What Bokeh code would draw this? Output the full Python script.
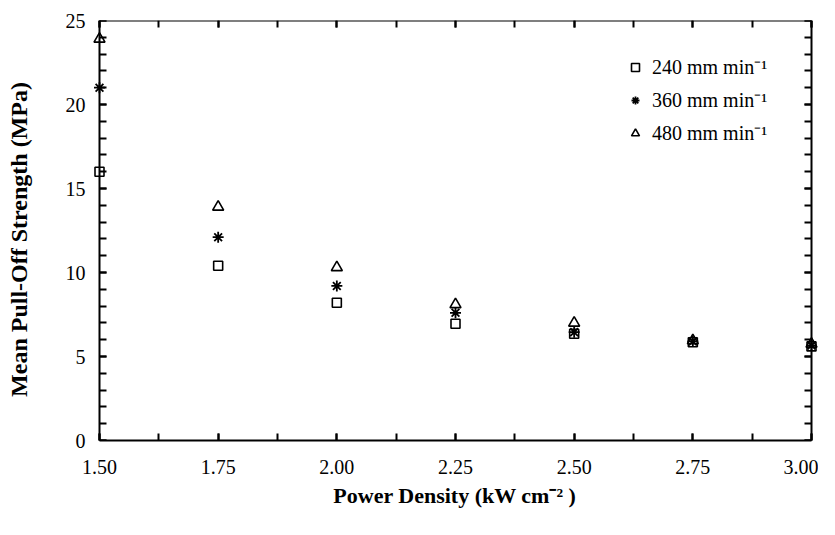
from bokeh.plotting import figure
from bokeh.models import (Range1d, LinearAxis, Legend, LegendItem,
                          SingleIntervalTicker, NumeralTickFormatter)
from bokeh.embed import file_html
from bokeh.resources import INLINE

# ---- data ----
power_density = [1.50, 1.75, 2.00, 2.25, 2.50, 2.75, 3.00]
s240 = [16.0, 10.4, 8.2, 6.95, 6.35, 5.85, 5.6]
s360 = [21.0, 12.1, 9.2, 7.6, 6.45, 5.9, 5.65]
s480 = [23.9, 13.9, 10.3, 8.1, 7.0, 5.95, 5.75]
legend_labels = ["240 mm min\u207b\u00b9", "360 mm min\u207b\u00b9", "480 mm min\u207b\u00b9"]
x_title = "Power Density (kW cm\u207b\u00b2 )"
y_title = "Mean  Pull-Off  Strength  (MPa)"

FONT = "Liberation Serif"

X0, X1 = 1.5, 3.0
Y0, Y1 = 0, 25
PX_PER_X = 712 / 1.5
PAD_L, PAD_R = 8, 7

p = figure(frame_width=727, frame_height=420, output_backend="svg", toolbar_location=None,
           x_range=Range1d(X0 - PAD_L / PX_PER_X, X1 + PAD_R / PX_PER_X),
           y_range=Range1d(Y0, Y1),
           x_axis_location=None, y_axis_location=None)
p.min_border_left = 91
p.min_border_right = 0
p.min_border_top = 20
p.min_border_bottom = 79
p.outline_line_color = None
p.xgrid.visible = False
p.ygrid.visible = False
p.background_fill_color = "white"
p.border_fill_color = "white"


def make_axis(kind, show_line=True, labels=False, standoff=0,
              title=None, title_size="22px", title_standoff=8):
    ax = LinearAxis()
    if kind == "x":
        ax.ticker = SingleIntervalTicker(interval=0.25, num_minor_ticks=2)
        ax.formatter = NumeralTickFormatter(format="0.00")
        ax.bounds = (X0, X1)
    else:
        ax.ticker = SingleIntervalTicker(interval=5, num_minor_ticks=5)
        ax.formatter = NumeralTickFormatter(format="0")
    if show_line:
        ax.axis_line_width = 2
        ax.axis_line_color = "black"
        ax.major_tick_in = 7
        ax.minor_tick_in = 7
        ax.major_tick_line_width = 2
        ax.minor_tick_line_width = 2
        ax.major_tick_line_color = "black"
        ax.minor_tick_line_color = "black"
    else:
        ax.axis_line_color = None
        ax.major_tick_line_color = None
        ax.minor_tick_line_color = None
        ax.major_tick_in = 0
        ax.minor_tick_in = 0
    ax.major_tick_out = 0
    ax.minor_tick_out = 0
    if labels:
        ax.major_label_text_font = FONT
        ax.major_label_text_font_size = "20px"
        ax.major_label_text_color = "black"
        ax.major_label_standoff = standoff
    else:
        ax.major_label_text_font_size = "0px"
        ax.major_label_text_alpha = 0
        ax.major_label_standoff = 0
    if title:
        ax.axis_label = title
        ax.axis_label_text_font = FONT
        ax.axis_label_text_font_size = title_size
        ax.axis_label_text_font_style = "bold"
        ax.axis_label_text_color = "black"
        ax.axis_label_standoff = title_standoff
    return ax


# bottom axis: line, ticks, labels, title
bottom = make_axis("x", True, True, 19, x_title, "22px", 6)
# left labels + title (sits at frame edge, line hidden)
left_labels = make_axis("y", False, True, 6, y_title, "24px", 31)
# left line + ticks at x = 1.50
left_line = make_axis("y", True)
left_line.fixed_location = X0
# top line at y = 25
top = make_axis("x", True)
top.fixed_location = Y1
# right line at x = 3.00
right = make_axis("y", True)
right.fixed_location = X1

p.add_layout(bottom, "below")
p.add_layout(left_labels, "left")
p.add_layout(left_line, "left")
p.add_layout(top, "above")
p.add_layout(right, "right")

r1 = p.scatter(power_density, s240, marker="square", size=9, line_color="black",
               line_width=1.6, fill_color=None)
r2 = p.scatter(power_density, s360, marker="asterisk", size=11, line_color="black",
               line_width=1.8)
r3 = p.scatter(power_density, s480, marker="triangle", size=11, line_color="black",
               line_width=1.6, fill_color=None)

legend = Legend(items=[LegendItem(label=legend_labels[0], renderers=[r1]),
                       LegendItem(label=legend_labels[1], renderers=[r2]),
                       LegendItem(label=legend_labels[2], renderers=[r3])],
                location=(534, 294))
legend.label_text_font = FONT
legend.label_text_font_size = "20px"
legend.label_text_color = "black"
legend.glyph_width = 20
legend.glyph_height = 24
legend.label_height = 24
legend.label_standoff = 7
legend.spacing = 6
legend.padding = 0
legend.margin = 0
legend.border_line_color = None
legend.background_fill_alpha = 0
p.add_layout(legend, "center")

open("out.html", "w").write(file_html(p, INLINE))
